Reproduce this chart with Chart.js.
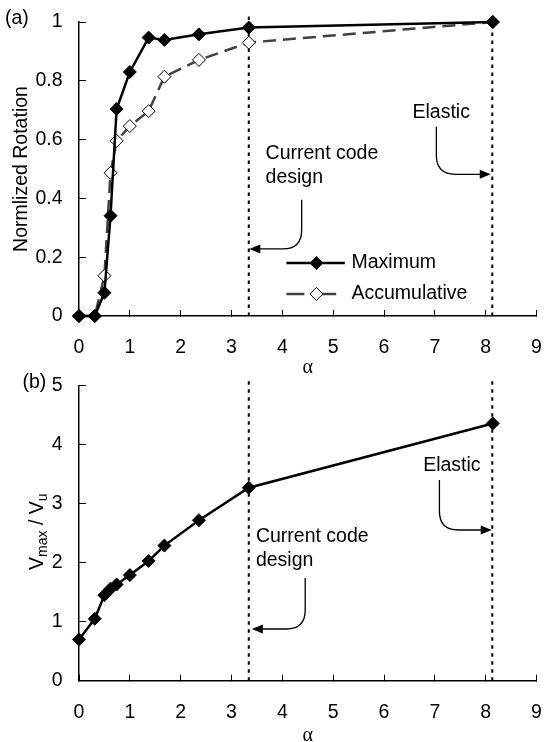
<!DOCTYPE html>
<html>
<head>
<meta charset="utf-8">
<script src="https://cdn.jsdelivr.net/npm/chart.js@4/dist/chart.umd.min.js"></script>
<style>
html, body { margin: 0; padding: 0; background: #fff; overflow: hidden; }
#wrapA { position: absolute; left: 0; top: 0; width: 544px; height: 380px; }
#wrapB { position: absolute; left: 0; top: 365px; width: 544px; height: 385px; }
</style>
</head>
<body>
<div id="wrapA"><canvas id="chartA" width="544" height="380"></canvas></div>
<div id="wrapB"><canvas id="chartB" width="544" height="385"></canvas></div>
<script>
// ---------- data ----------
var alpha   = [0, 0.31, 0.50, 0.62, 0.74, 1.00, 1.37, 1.68, 2.36, 3.34, 8.14];
var rotMax  = [0, 0, 0.079, 0.341, 0.704, 0.830, 0.947, 0.939, 0.958, 0.981, 1.000];
var rotAcc  = [0, 0, 0.137, 0.487, 0.596, 0.646, 0.697, 0.814, 0.871, 0.930, 1.000];
var vRatio  = [0.70, 1.05, 1.45, 1.56, 1.63, 1.79, 2.03, 2.29, 2.72, 3.27, 4.36];

var codeAlpha    = 3.34;   // current code design
var elasticAlpha = 8.13;   // elastic

var xTicks  = [0, 1, 2, 3, 4, 5, 6, 7, 8, 9];
var yTicksA = [0, 0.2, 0.4, 0.6, 0.8, 1];
var yTicksB = [0, 1, 2, 3, 4, 5];

// ---------- style ----------
var FONT = "'Liberation Sans', Arial, sans-serif";
var FS = 19.5;

function pts(xs, ys) {
    return xs.map(function (x, i) { return { x: x, y: ys[i] }; });
}

function vline(a, top) {
    return {
        label: '', data: [{ x: a, y: 0 }, { x: a, y: top }],
        borderColor: '#000', borderWidth: 2, borderDash: [3.5, 4.5],
        pointRadius: 0, clip: false, order: 3
    };
}

function drawArrow(ctx, x, y0, yc, tip) {
    var dir = tip < x ? -1 : 1, r = 19;
    ctx.lineWidth = 1.3;
    ctx.beginPath();
    ctx.moveTo(x, y0);
    ctx.lineTo(x, yc - r);
    ctx.quadraticCurveTo(x, yc, x + dir * r, yc);
    ctx.lineTo(tip - dir * 9, yc);
    ctx.stroke();
    ctx.beginPath();
    ctx.moveTo(tip, yc);
    ctx.lineTo(tip - dir * 11, yc - 4.5);
    ctx.lineTo(tip - dir * 11, yc + 4.5);
    ctx.closePath();
    ctx.fill();
}

// text, arrows, legend drawn on top of the plot
var overlay = {
    id: 'overlay',
    afterDatasetsDraw: function (chart, args, o) {
        var ctx = chart.ctx, xs = chart.scales.x, ys = chart.scales.y;
        var X = function (v) { return xs.getPixelForValue(v); };
        var Y = function (v) { return ys.getPixelForValue(v); };
        ctx.save();
        ctx.fillStyle = '#000';
        ctx.strokeStyle = '#000';
        ctx.font = FS + 'px ' + FONT;
        ctx.textBaseline = 'middle';
        ctx.textAlign = 'left';
        ctx.fillText(o.panel[0], o.panel[1], o.panel[2]);
        o.notes.forEach(function (n) { ctx.fillText(n.text, X(n.x), Y(n.y)); });
        o.arrows.forEach(function (a) { drawArrow(ctx, X(a.x), Y(a.y0), Y(a.yc), X(a.tip)); });

        (o.legend || []).forEach(function (l) {
            var ds = chart.data.datasets[l.ds];
            var y = Y(l.y), x0 = X(l.x0), x1 = X(l.x1), xm = X(l.xm);
            ctx.strokeStyle = ds.borderColor;
            ctx.lineWidth = ds.borderWidth;
            ctx.beginPath();
            if (ds.borderDash) {
                ctx.moveTo(x0, y); ctx.lineTo(xm - 12, y);
                ctx.moveTo(xm + 5, y); ctx.lineTo(x1, y);
            } else {
                ctx.moveTo(x0, y); ctx.lineTo(x1, y);
            }
            ctx.stroke();
            ctx.fillStyle = ds.pointBackgroundColor;
            ctx.strokeStyle = ds.pointBorderColor;
            ctx.lineWidth = ds.pointBorderWidth;
            Chart.helpers.drawPoint(ctx, { pointStyle: 'rectRot', rotation: 0, radius: ds.pointRadius, borderWidth: ds.pointBorderWidth }, xm, y);
            ctx.fillStyle = '#000';
            ctx.fillText(ds.label, X(l.xt), y);
        });

        if (o.yTitle) {
            // V_max / V_u with subscripts
            var t = o.yTitle, sub = 14;
            var parts = [['V', FS, 0], ['max', sub, 4], [' / V', FS, 0], ['u', sub, 4]];
            var w = 0;
            parts.forEach(function (p) { ctx.font = p[1] + 'px ' + FONT; w += ctx.measureText(p[0]).width; });
            ctx.translate(t[0], t[1]);
            ctx.rotate(-Math.PI / 2);
            ctx.textBaseline = 'alphabetic';
            var cx = -w / 2;
            parts.forEach(function (p) {
                ctx.font = p[1] + 'px ' + FONT;
                ctx.fillText(p[0], cx, p[2]);
                cx += ctx.measureText(p[0]).width;
            });
        }
        ctx.restore();
    }
};

function scales(yTicks, yMax, xh, xTitlePad, yTitle) {
    return {
        x: {
            type: 'linear', min: 0, max: 9, position: 'bottom',
            afterBuildTicks: function (s) { s.ticks = xTicks.map(function (v) { return { value: v }; }); },
            afterFit: function (s) { s.height = xh; s.paddingLeft = 0; s.paddingRight = 0; },
            grid: { drawOnChartArea: false, drawTicks: true, tickLength: -6, tickColor: '#000', tickWidth: 1 },
            border: { color: '#000', width: 1.5 },
            ticks: { color: '#000', font: { family: FONT, size: FS }, padding: 26, maxRotation: 0, autoSkip: false,
                     callback: function (v) { return String(v); } },
            title: { display: true, text: 'α', color: '#000', font: { family: "'Liberation Serif', serif", size: 20 },
                     padding: { top: 0, bottom: xTitlePad } }
        },
        y: {
            type: 'linear', min: 0, max: yMax,
            afterBuildTicks: function (s) { s.ticks = yTicks.map(function (v) { return { value: v }; }); },
            afterFit: function (s) { s.width = 79; s.paddingTop = 0; s.paddingBottom = 0; },
            grid: { drawOnChartArea: false, drawTicks: true, tickLength: -7, tickColor: '#000', tickWidth: 1 },
            border: { color: '#000', width: 1.5 },
            ticks: { color: '#000', font: { family: FONT, size: FS }, padding: 23.5, autoSkip: false,
                     callback: function (v) { return String(v); } },
            title: { display: !!yTitle, text: yTitle || '', color: '#000', font: { family: FONT, size: FS },
                     padding: { top: 10, bottom: 0 } }
        }
    };
}

var common = {
    responsive: false, animation: false,
    plugins: { legend: { display: false }, tooltip: { enabled: false } }
};

// ---------- (a) normalized rotation ----------
new Chart(document.getElementById('chartA'), {
    type: 'line',
    data: {
        datasets: [
            { label: 'Maximum', data: pts(alpha, rotMax), borderColor: '#000', borderWidth: 2.5,
              pointStyle: 'rectRot', pointRadius: 6.5, pointBackgroundColor: '#000', pointBorderColor: '#000',
              pointBorderWidth: 1, clip: false, order: 1 },
            { label: 'Accumulative', data: pts(alpha, rotAcc), borderColor: '#404040', borderWidth: 2.5, borderDash: [13, 7],
              pointStyle: 'rectRot', pointRadius: 6.5, pointBackgroundColor: '#fff', pointBorderColor: '#000',
              pointBorderWidth: 1, clip: false, order: 2 },
            vline(codeAlpha, 1.024),
            vline(elasticAlpha, 1.024)
        ]
    },
    options: Object.assign({}, common, {
        layout: { padding: { top: 22, right: 7, left: 0, bottom: 0 } },
        scales: scales(yTicksA, 1, 64, 0, 'Normlized Rotation'),
        plugins: Object.assign({}, common.plugins, {
            overlay: {
                panel: ['(a)', 5, 19],
                notes: [
                    { text: 'Current code', x: 3.67, y: 0.551 },
                    { text: 'design', x: 3.67, y: 0.469 },
                    { text: 'Elastic', x: 6.56, y: 0.691 }
                ],
                arrows: [
                    { x: 4.38, y0: 0.395, yc: 0.228, tip: 3.35 },
                    { x: 7.03, y0: 0.644, yc: 0.482, tip: 8.10 }
                ],
                legend: [
                    { ds: 0, y: 0.180, x0: 4.08, x1: 5.23, xm: 4.67, xt: 5.36 },
                    { ds: 1, y: 0.075, x0: 4.08, x1: 5.06, xm: 4.67, xt: 5.36 }
                ]
            }
        })
    }),
    plugins: [overlay]
});

// ---------- (b) Vmax / Vu ----------
new Chart(document.getElementById('chartB'), {
    type: 'line',
    data: {
        datasets: [
            { label: 'Vmax/Vu', data: pts(alpha, vRatio), borderColor: '#000', borderWidth: 2.5,
              pointStyle: 'rectRot', pointRadius: 6.5, pointBackgroundColor: '#000', pointBorderColor: '#000',
              pointBorderWidth: 1, clip: false, order: 1 },
            vline(codeAlpha, 5.15),
            vline(elasticAlpha, 5.15)
        ]
    },
    options: Object.assign({}, common, {
        layout: { padding: { top: 20.7, right: 6, left: 0, bottom: 0 } },
        scales: scales(yTicksB, 5, 69.3, 2, null),
        plugins: Object.assign({}, common.plugins, {
            overlay: {
                panel: ['(b)', 22.5, 18],
                notes: [
                    { text: 'Current code', x: 3.48, y: 2.44 },
                    { text: 'design', x: 3.48, y: 2.034 },
                    { text: 'Elastic', x: 6.77, y: 3.64 }
                ],
                arrows: [
                    { x: 4.45, y0: 1.74, yc: 0.876, tip: 3.40 },
                    { x: 7.09, y0: 3.40, yc: 2.554, tip: 8.12 }
                ],
                yTitle: [43, 166.7]
            }
        })
    }),
    plugins: [overlay]
});
</script>
</body>
</html>
